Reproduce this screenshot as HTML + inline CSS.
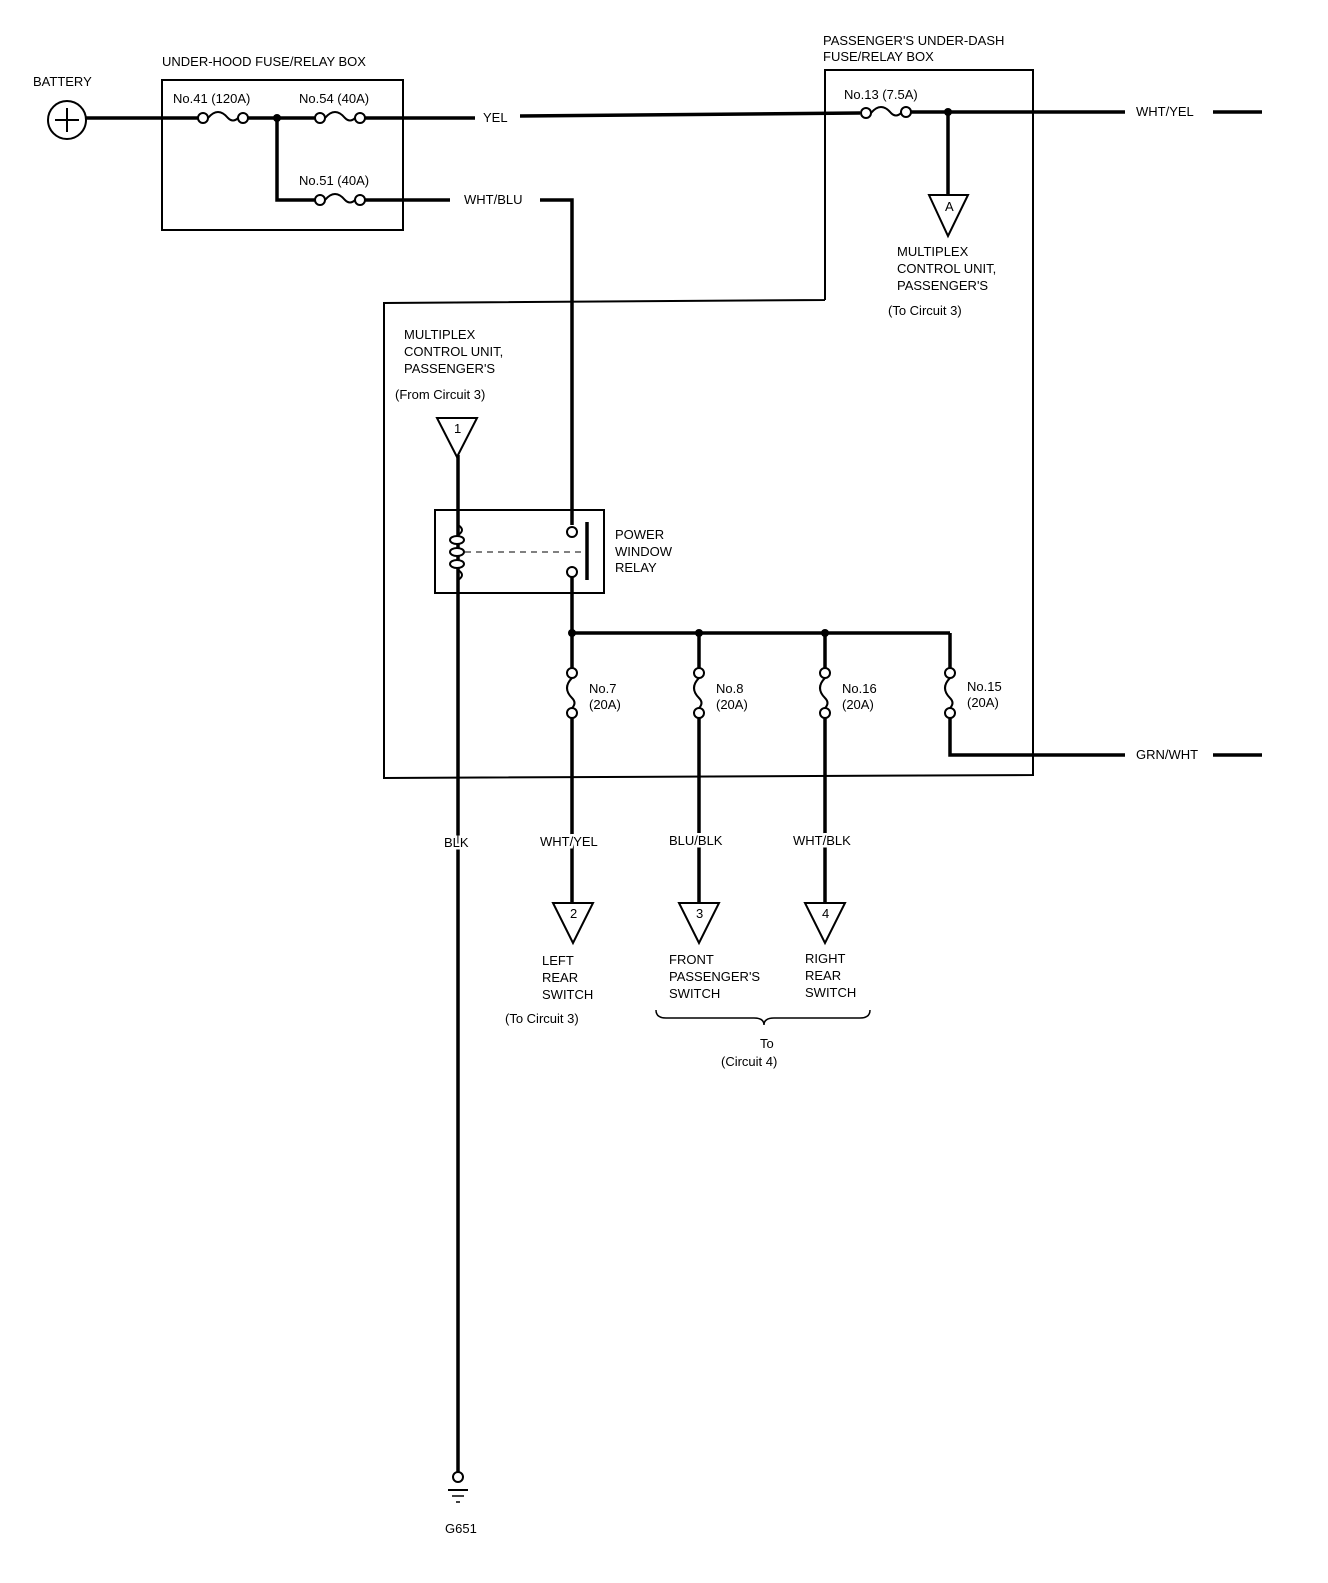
<!DOCTYPE html>
<html><head><meta charset="utf-8"><style>
body{margin:0;background:#fff}
svg text{font-family:"Liberation Sans",sans-serif;font-size:13px;fill:#000}
.bg{stroke:#fff;stroke-width:5px;paint-order:stroke}
</style></head><body>
<svg width="1328" height="1578" viewBox="0 0 1328 1578" xmlns="http://www.w3.org/2000/svg">
<g fill="none" stroke="#000" stroke-width="2">
<rect x="162" y="80" width="241" height="150"/>
<polyline points="825,300 825,70 1033,70 1033,775 384,778 384,303 825,300"/>
<rect x="435" y="510" width="169" height="83"/>
<circle cx="67" cy="120" r="19"/>
</g>
<g stroke="#000" stroke-width="3.5" fill="none">
<line x1="86" y1="118" x2="198" y2="118"/>
<line x1="248" y1="118" x2="315" y2="118"/>
<line x1="365" y1="118" x2="475" y2="118"/>
<line x1="520" y1="116" x2="860" y2="113"/>
<line x1="910" y1="112" x2="1125" y2="112"/>
<line x1="1213" y1="112" x2="1262" y2="112"/>
<polyline points="277,118 277,200 315,200"/>
<line x1="365" y1="200" x2="450" y2="200"/>
<polyline points="540,200 572,200 572,525"/>
<line x1="948" y1="112" x2="948" y2="195"/>
<line x1="458" y1="455" x2="458" y2="1472"/>
<line x1="572" y1="577" x2="572" y2="668"/>
<line x1="572" y1="633" x2="950" y2="633"/>
<line x1="950" y1="633" x2="950" y2="668"/>
<polyline points="950,718 950,755 1125,755"/>
<line x1="1213" y1="755" x2="1262" y2="755"/>
<line x1="699" y1="633" x2="699" y2="668"/>
<line x1="825" y1="633" x2="825" y2="668"/>
<line x1="572" y1="718" x2="572" y2="903"/>
<line x1="699" y1="718" x2="699" y2="903"/>
<line x1="825" y1="718" x2="825" y2="903"/>
<line x1="587" y1="522" x2="587" y2="580"/>
</g>
<g stroke="#000" stroke-width="2" fill="#fff">
<line x1="55" y1="120" x2="79" y2="120"/><line x1="67" y1="108" x2="67" y2="132"/>
<circle cx="203" cy="118" r="5"/><path d="M208,118 q10,-12 20,0 q5,5 10,0" fill="none"/><circle cx="243" cy="118" r="5"/>
<circle cx="320" cy="118" r="5"/><path d="M325,118 q10,-12 20,0 q5,5 10,0" fill="none"/><circle cx="360" cy="118" r="5"/>
<circle cx="320" cy="200" r="5"/><path d="M325,200 q10,-12 20,0 q5,5 10,0" fill="none"/><circle cx="360" cy="200" r="5"/>
<circle cx="866" cy="113" r="5"/><path d="M871,113 q10,-12 20,0 q5,5 10,0" fill="none"/><circle cx="906" cy="112" r="5"/>
<circle cx="572" cy="673" r="5"/><path d="M572,678 q-10,10 0,20 q5,5 0,10" fill="none"/><circle cx="572" cy="713" r="5"/>
<circle cx="699" cy="673" r="5"/><path d="M699,678 q-10,10 0,20 q5,5 0,10" fill="none"/><circle cx="699" cy="713" r="5"/>
<circle cx="825" cy="673" r="5"/><path d="M825,678 q-10,10 0,20 q5,5 0,10" fill="none"/><circle cx="825" cy="713" r="5"/>
<circle cx="950" cy="673" r="5"/><path d="M950,678 q-10,10 0,20 q5,5 0,10" fill="none"/><circle cx="950" cy="713" r="5"/>
<polygon points="929,195 968,195 948,236"/>
<polygon points="437,418 477,418 457,457"/>
<polygon points="553,903 593,903 573,943"/>
<polygon points="679,903 719,903 699,943"/>
<polygon points="805,903 845,903 825,943"/>
<path d="M458,510 v15 q8,5 0,10 v35 q8,5 0,10 v13" fill="none"/>
<ellipse cx="457" cy="540" rx="7" ry="4"/><ellipse cx="457" cy="552" rx="7" ry="4"/><ellipse cx="457" cy="564" rx="7" ry="4"/>
<line x1="465" y1="552" x2="585" y2="552" stroke-dasharray="6,5" stroke-width="1"/>
<circle cx="572" cy="532" r="5"/><circle cx="572" cy="572" r="5"/>
<circle cx="458" cy="1477" r="5"/>
<line x1="448" y1="1490" x2="468" y2="1490"/><line x1="452" y1="1496" x2="464" y2="1496" stroke-width="1.5"/><line x1="456" y1="1502" x2="460" y2="1502" stroke-width="1.5"/>
</g>
<g fill="#000"><circle cx="277" cy="118" r="4"/><circle cx="948" cy="112" r="4"/><circle cx="572" cy="633" r="4"/><circle cx="699" cy="633" r="4"/><circle cx="825" cy="633" r="4"/></g>
<g>
<text x="33" y="86">BATTERY</text>
<text x="162" y="66">UNDER-HOOD FUSE/RELAY BOX</text>
<text x="173" y="103">No.41 (120A)</text>
<text x="299" y="103">No.54 (40A)</text>
<text x="299" y="185">No.51 (40A)</text>
<text x="483" y="122">YEL</text>
<text x="464" y="204">WHT/BLU</text>
<text x="823" y="45">PASSENGER'S UNDER-DASH</text>
<text x="823" y="61">FUSE/RELAY BOX</text>
<text x="844" y="99">No.13 (7.5A)</text>
<text x="1136" y="116">WHT/YEL</text>
<text x="945" y="211" font-size="10">A</text>
<text x="897" y="256">MULTIPLEX</text>
<text x="897" y="273">CONTROL UNIT,</text>
<text x="897" y="290">PASSENGER'S</text>
<text x="888" y="315" font-size="16">(To Circuit 3)</text>
<text x="404" y="339">MULTIPLEX</text>
<text x="404" y="356">CONTROL UNIT,</text>
<text x="404" y="373">PASSENGER'S</text>
<text x="395" y="399" font-size="16">(From Circuit 3)</text>
<text x="454" y="433" font-size="10">1</text>
<text x="615" y="539">POWER</text>
<text x="615" y="556">WINDOW</text>
<text x="615" y="572">RELAY</text>
<text x="589" y="693">No.7</text><text x="589" y="709">(20A)</text>
<text x="716" y="693">No.8</text><text x="716" y="709">(20A)</text>
<text x="842" y="693">No.16</text><text x="842" y="709">(20A)</text>
<text x="967" y="691">No.15</text><text x="967" y="707">(20A)</text>
<text x="1136" y="759">GRN/WHT</text>
<text class="bg" x="444" y="847">BLK</text>
<text class="bg" x="540" y="846">WHT/YEL</text>
<text class="bg" x="669" y="845">BLU/BLK</text>
<text class="bg" x="793" y="845">WHT/BLK</text>
<text x="570" y="918" font-size="10">2</text>
<text x="696" y="918" font-size="10">3</text>
<text x="822" y="918" font-size="10">4</text>
<text x="542" y="965">LEFT</text><text x="542" y="982">REAR</text><text x="542" y="999">SWITCH</text>
<text x="669" y="964">FRONT</text><text x="669" y="981">PASSENGER'S</text><text x="669" y="998">SWITCH</text>
<text x="805" y="963">RIGHT</text><text x="805" y="980">REAR</text><text x="805" y="997">SWITCH</text>
<text x="505" y="1023" font-size="16">(To Circuit 3)</text>
<text x="760" y="1048" font-size="11">To</text>
<text x="721" y="1066" font-size="16">(Circuit 4)</text>
<text x="445" y="1533">G651</text>
</g>
<path d="M656,1010 q0,8 10,8 h88 q10,0 10,7 q0,-7 10,-7 h86 q10,0 10,-8" fill="none" stroke="#000" stroke-width="1.5"/>
</svg>
</body></html>
